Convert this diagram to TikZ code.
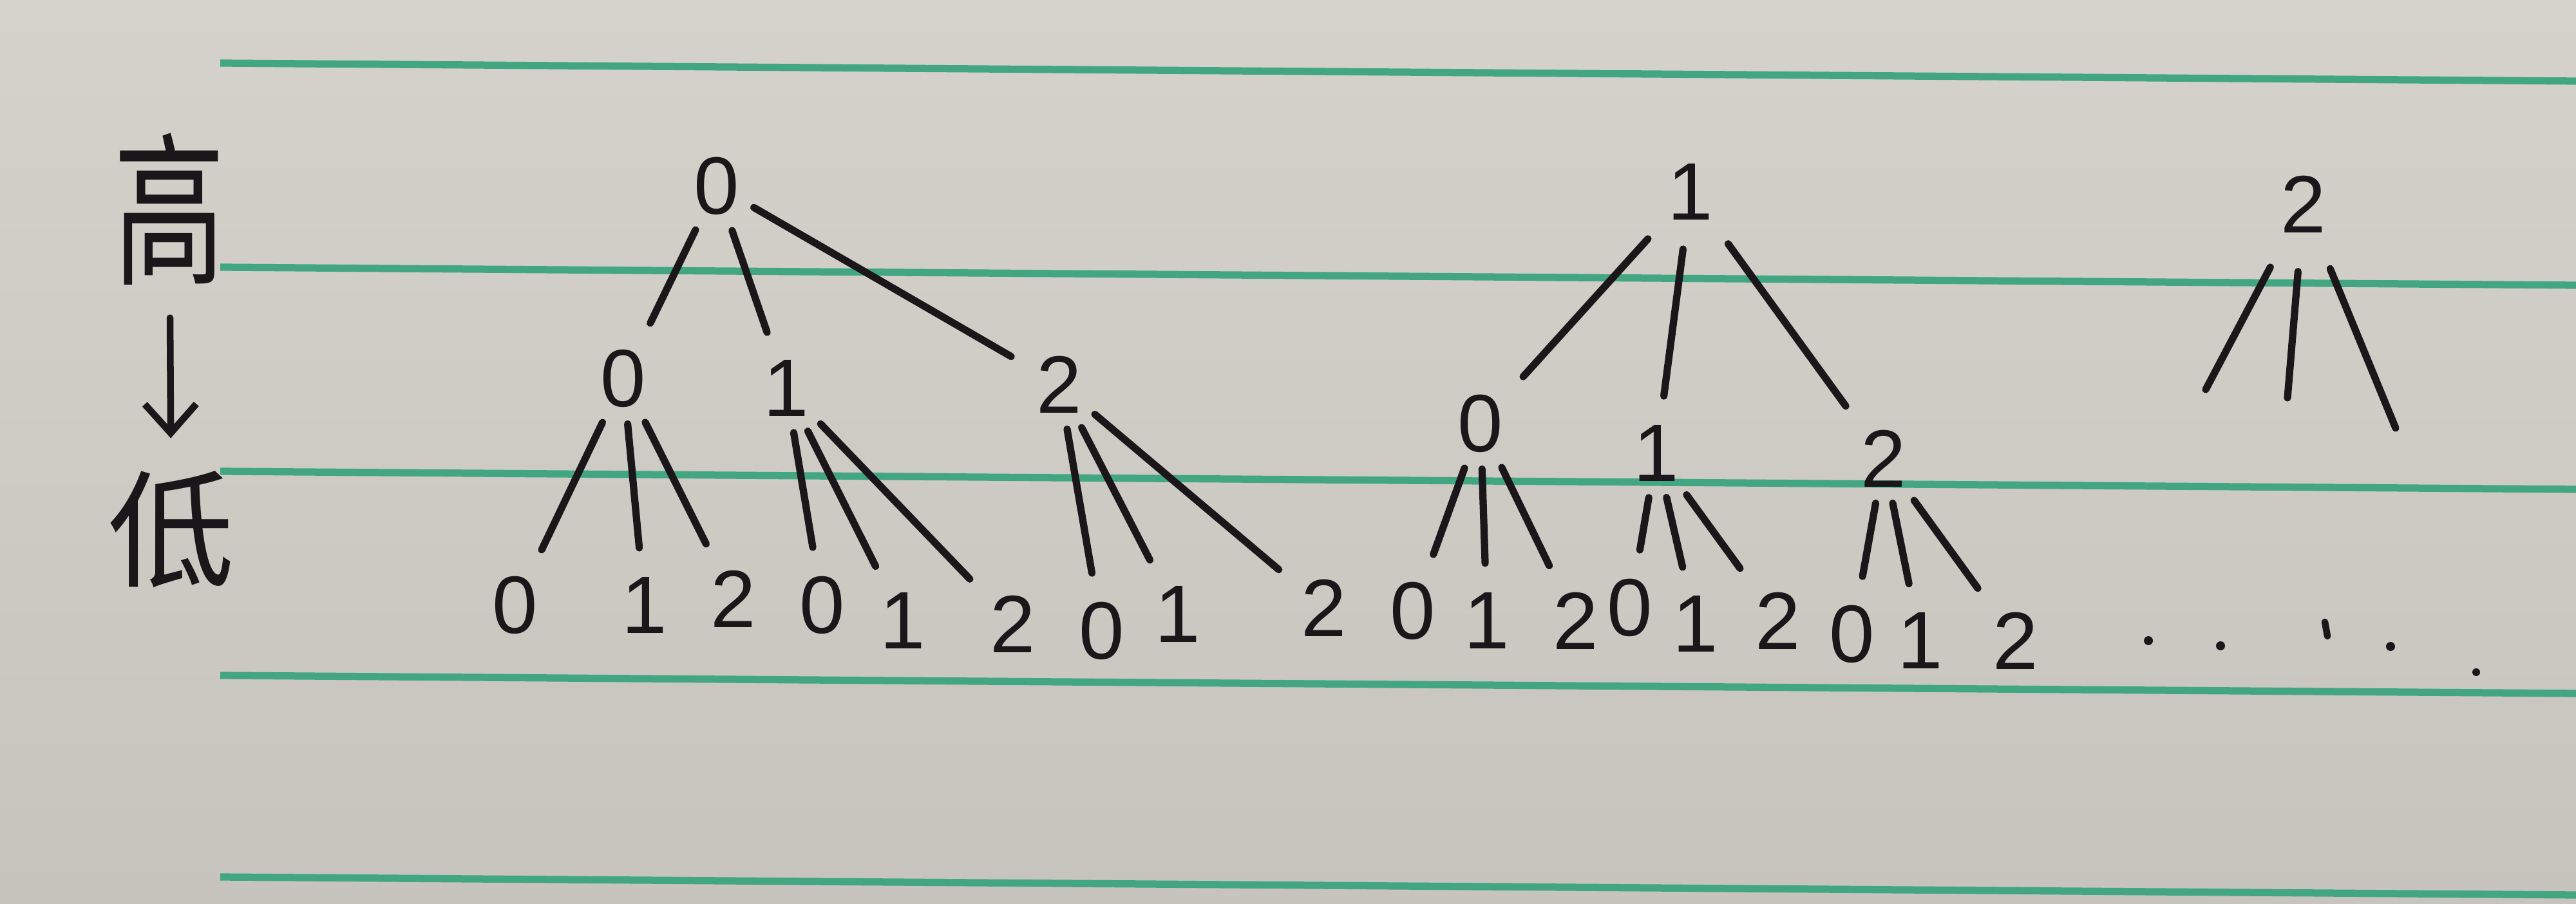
\documentclass[tikz,border=0pt]{standalone}
\usepackage{fontspec}
\setmainfont{Liberation Sans}
\newfontfamily\cjk{Noto Sans CJK SC}
\usepackage{xcolor}
\usepackage{tikz}
\usetikzlibrary{arrows.meta}

\definecolor{paper}{RGB}{213,210,204}
\definecolor{paperdark}{RGB}{199,195,189}
\definecolor{rulegreen}{RGB}{66,166,130}
\definecolor{ink}{RGB}{26,22,26}

\begin{document}
\begin{tikzpicture}[
    digit/.style={inner sep=0pt, text=ink, font=\fontsize{36}{38}\selectfont},
    side/.style={inner sep=0pt, text=ink, font=\cjk\fontsize{56}{60}\selectfont},
    edge/.style={draw=ink, line width=3.2pt, line cap=round, shorten <=0.25cm, shorten >=0.45cm},
    ruling/.style={draw=rulegreen, line width=3.2pt},
    dot/.style={fill=ink}
]
    \shade[top color=paper, bottom color=paperdark] (0,0) rectangle (40,-14.04);
    \useasboundingbox (0,0) rectangle (40,-14.04);
    \foreach \y in {0.98,4.15,7.32,10.49,13.62}
        \draw[ruling] (3.42,-\y) -- (40,-\y-0.28);

    \node[side] (hi) at (2.63,-3.25) {\scalebox{0.88}[1.3]{高}};
    \node[side] (lo) at (2.66,-8.22) {低};
    \draw[ink, line width=3pt, line cap=round, -{Straight Barb[length=0.45cm,width=0.8cm]},
        shorten <=0.5cm, shorten >=0.5cm] (hi) -- (lo);

    \node[digit] (a) at (11.13,-2.89) {0};
    \node[digit] (a0) at (9.68,-5.88) {0};
    \node[digit] (a1) at (12.21,-6.03) {1};
    \node[digit] (a2) at (16.45,-5.97) {2};
    \node[digit] (a00) at (8.00,-9.40) {0};
    \node[digit] (a01) at (10.01,-9.40) {1};
    \node[digit] (a02) at (11.39,-9.30) {2};
    \node[digit] (a10) at (12.77,-9.40) {0};
    \node[digit] (a11) at (14.02,-9.64) {1};
    \node[digit] (a12) at (15.73,-9.69) {2};
    \node[digit] (a20) at (17.11,-9.80) {0};
    \node[digit] (a21) at (18.29,-9.54) {1};
    \node[digit] (a22) at (20.56,-9.44) {2};

    \node[digit] (b) at (26.25,-2.98) {1};
    \node[digit] (b0) at (22.99,-6.58) {0};
    \node[digit] (b1) at (25.72,-7.04) {1};
    \node[digit] (b2) at (29.25,-7.12) {2};
    \node[digit] (b00) at (21.94,-9.49) {0};
    \node[digit] (b01) at (23.09,-9.64) {1};
    \node[digit] (b02) at (24.47,-9.64) {2};
    \node[digit] (b10) at (25.31,-9.44) {0};
    \node[digit] (b11) at (26.33,-9.69) {1};
    \node[digit] (b12) at (27.61,-9.64) {2};
    \node[digit] (b20) at (28.76,-9.85) {0};
    \node[digit] (b21) at (29.82,-9.95) {1};
    \node[digit] (b22) at (31.30,-9.95) {2};

    \node[digit] (c) at (35.77,-3.17) {2};
    \coordinate (c0) at (34.25,-6.05);
    \coordinate (c1) at (35.52,-6.18);
    \coordinate (c2) at (37.20,-6.65);

    \foreach \i in {0,1,2} {
        \draw[edge] (a) -- (a\i);
        \draw[edge, shorten <=0.45cm] (b) -- (b\i);
        \draw[edge, shorten <=0.6cm, shorten >=0pt] (c) -- (c\i);
        \foreach \j in {0,1,2} {
            \draw[edge] (a\i) -- (a\i\j);
            \draw[edge] (b\i) -- (b\i\j);
        }
    }

    \fill[dot] (33.36,-9.95) circle (0.07);
    \fill[dot] (34.48,-10.03) circle (0.07);
    \draw[ink, line width=3pt, line cap=round] (36.10,-9.66) -- (36.14,-9.88);
    \fill[dot] (37.12,-10.04) circle (0.07);
    \fill[dot] (38.45,-10.44) circle (0.06);
\end{tikzpicture}
\end{document}
